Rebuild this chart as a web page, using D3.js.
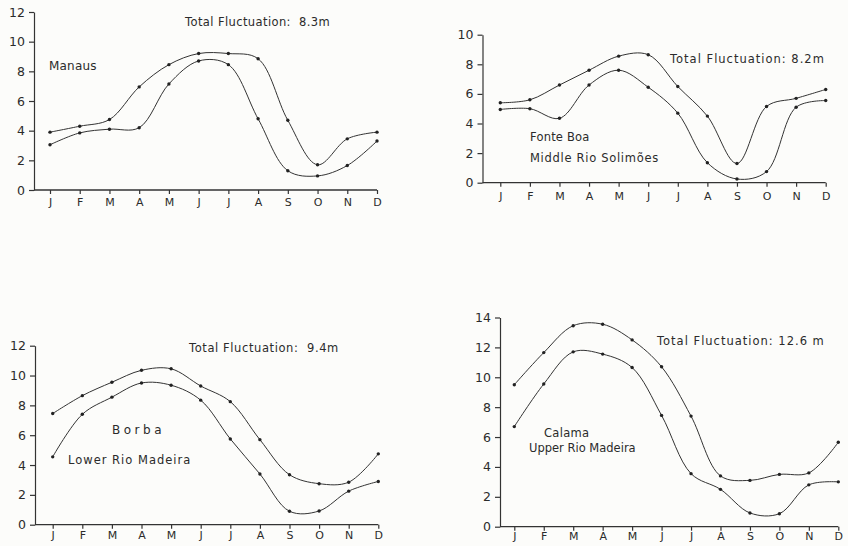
<!DOCTYPE html>
<html>
<head>
<meta charset="utf-8">
<script src="https://cdn.jsdelivr.net/npm/d3@7"></script>
<style>
  body { margin: 0; background: #fcfcfa; }
  svg { display: block; }
  text { font-family: "DejaVu Sans", sans-serif; fill: #2b2b2b; white-space: pre; }
</style>
</head>
<body>
<script>
"use strict";

// Months on the x axis (shared by the four stations)
var months = ["J", "F", "M", "A", "M", "J", "J", "A", "S", "O", "N", "D"];

// Water level (m), upper and lower curve for each station
var manausHigh = [3.9, 4.3, 4.75, 6.95, 8.45, 9.2, 9.2, 8.85, 4.7, 1.7, 3.45, 3.9];
var manausLow  = [3.05, 3.85, 4.1, 4.2, 7.15, 8.7, 8.45, 4.8, 1.3, 0.95, 1.65, 3.3];

var fonteBoaHigh = [5.4, 5.6, 6.6, 7.6, 8.55, 8.65, 6.5, 4.5, 1.3, 5.15, 5.7, 6.3];
var fonteBoaLow  = [4.95, 5.0, 4.35, 6.6, 7.6, 6.45, 4.7, 1.35, 0.25, 0.75, 5.1, 5.55];

var borbaHigh = [7.45, 8.65, 9.55, 10.35, 10.45, 9.3, 8.25, 5.7, 3.35, 2.75, 2.85, 4.75];
var borbaLow  = [4.55, 7.4, 8.55, 9.5, 9.35, 8.35, 5.75, 3.4, 0.9, 0.92, 2.25, 2.9];

var calamaHigh = [9.5, 11.65, 13.45, 13.55, 12.5, 10.7, 7.4, 3.4, 3.1, 3.5, 3.6, 5.65];
var calamaLow  = [6.7, 9.55, 11.7, 11.55, 10.65, 7.45, 3.55, 2.5, 0.92, 0.87, 2.8, 3.0];

var fluctuations = ["Total Fluctuation:  8.3m", "Total Fluctuation: 8.2m",
                    "Total Fluctuation:  9.4m", "Total Fluctuation: 12.6 m"];

var svg = d3.select("body").append("svg")
    .attr("width", 848)
    .attr("height", 546);

var ink = "#333";

function drawPanel(p) {
  var g = svg.append("g");

  var x = d3.scalePoint().domain(d3.range(months.length)).range([p.xJ, p.xD]);
  var y = d3.scaleLinear().domain([0, p.yMax]).range([p.y0, p.yTop]);

  // y axis
  var yAxis = d3.axisLeft(y)
      .tickValues(d3.range(0, p.yMax + 1, 2))
      .tickSize(5).tickSizeOuter(0).tickPadding(4);
  var ya = g.append("g").attr("transform", "translate(" + p.axisX + ",0)").call(yAxis);
  ya.selectAll("text").style("font-size", "12.5px");

  // x axis
  var xAxis = d3.axisBottom(x)
      .tickFormat(function(i) { return months[i]; })
      .tickSize(4).tickPadding(p.gap || 5);
  var xa = g.append("g").attr("transform", "translate(0," + p.y0 + ")").call(xAxis);
  xa.select(".domain").remove();
  xa.append("line")
      .attr("x1", p.axisX).attr("x2", p.xD)
      .attr("stroke", ink).attr("stroke-width", 1.3);
  xa.selectAll("text").style("font-size", "11px");

  g.selectAll(".domain, .tick line").attr("stroke", ink).attr("stroke-width", 1.2);
  g.selectAll(".tick text").style("fill", "#2b2b2b");

  var line = d3.line()
      .x(function(d, i) { return x(i); })
      .y(function(d) { return y(d); })
      .curve(d3.curveCatmullRom.alpha(0.5));

  [p.high, p.low].forEach(function(series) {
    g.append("path")
        .datum(series)
        .attr("d", line)
        .attr("fill", "none")
        .attr("stroke", ink)
        .attr("stroke-width", 1);
    g.selectAll(null).data(series).enter().append("circle")
        .attr("cx", function(d, i) { return x(i); })
        .attr("cy", function(d) { return y(d); })
        .attr("r", 1.7)
        .attr("fill", "#222");
  });

  p.labels.forEach(function(l) {
    g.append("text")
        .attr("x", l[1]).attr("y", l[2])
        .attr("dy", "0.35em")
        .style("font-size", (l[3] || 12) + "px")
        .style("letter-spacing", (l[4] || 0) + "px")
        .text(l[0]);
  });
}

drawPanel({
  high: manausHigh, low: manausLow,
  axisX: 34, xJ: 50, xD: 377, y0: 190, yTop: 12, yMax: 12, gap: 4,
  labels: [[fluctuations[0], 185, 22, 11.5, 0.4], ["Manaus", 49, 66, 12, 0.2]]
});

drawPanel({
  high: fonteBoaHigh, low: fonteBoaLow,
  axisX: 482.5, xJ: 500.3, xD: 825.7, y0: 182.7, yTop: 34.7, yMax: 10, gap: 6,
  labels: [[fluctuations[1], 670, 59, 11.5, 1.0], ["Fonte Boa", 530, 137, 11.5, 0.2],
           ["Middle Rio Solimões", 530, 158, 11.5, 0.7]]
});

drawPanel({
  high: borbaHigh, low: borbaLow,
  axisX: 35, xJ: 52.7, xD: 378.3, y0: 524.7, yTop: 345.7, yMax: 12, gap: 3,
  labels: [[fluctuations[2], 189, 348, 11.5, 0.6], ["Borba", 112, 430, 12, 3.5],
           ["Lower Rio Madeira", 68, 460, 11.5, 1.0]]
});

drawPanel({
  high: calamaHigh, low: calamaLow,
  axisX: 500, xJ: 514.3, xD: 838.3, y0: 526.7, yTop: 317.5, yMax: 14, gap: 2,
  labels: [[fluctuations[3], 657, 341, 11.5, 1.0], ["Calama", 544, 433, 11.5, 0.3],
           ["Upper Rio Madeira", 529, 448, 11.5]]
});
</script>
</body>
</html>
